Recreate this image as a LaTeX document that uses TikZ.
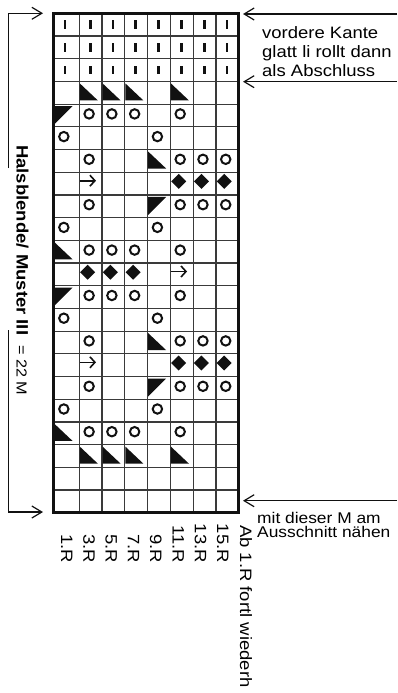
\documentclass[tikz,border=0pt]{standalone}
\usepackage{fontspec}
\setmainfont[FakeStretch=1.12]{Liberation Sans}
\usepackage{tikz}
\usetikzlibrary{arrows.meta}
\definecolor{Ink}{HTML}{111111}
\definecolor{Rule}{HTML}{3A3A3A}

\begin{document}
\begin{tikzpicture}[x=1pt,y=-1pt,
  gridline/.style={Rule,line width=1.2pt},
  frame/.style={Ink,line width=2.8pt},
  pointer/.style={Ink,line width=1.2pt,-{Straight Barb[length=10pt,width=12pt]}},
  ring/.style={Ink,line width=2pt},
  knit/.style={Ink,line width=1.6pt,-{Straight Barb[length=5pt,width=11pt]}},
  note/.style={inner sep=0pt,anchor=base west,font=\fontsize{16.5}{19}\selectfont},
  rowlabel/.style={inner sep=0pt,rotate=-90,font=\fontsize{16.5}{19}\selectfont}]

  \fill[white] (0,0) rectangle (397,693);
  \useasboundingbox (0,0) rectangle (397,693);

  \coordinate (nw) at (53.3,13.3);
  \coordinate (se) at (238.7,512.7);

  \foreach \k in {0,...,6}
    \draw[gridline] ({79.3+\k*22.77},13.3) -- ({79.3+\k*22.77},512.7);
  \foreach \k in {1,...,21}
    \draw[gridline] (53.3,{13.3+\k*22.7}) -- (238.7,{13.3+\k*22.7});
  \draw[frame] (nw) rectangle (se);

  \foreach \r in {1,2,3}
    \foreach \c in {1,...,8}
      \fill[Ink] ({79.3+(\c-2)*22.77-2.5*(\c<2)+9.6},{13.3+(\r-1)*22.7+7.1}) rectangle ++(2.8,8.5);

  \foreach \c/\r [evaluate=\c as \xl using 79.3+(\c-2)*22.77-2.5*(\c<2),
                  evaluate=\r as \yt using 13.3+(\r-1)*22.7] in
    {2/4,3/4,4/4,6/4,5/7,1/11,5/15,1/19,2/20,3/20,4/20,6/20}
    \fill[Ink] ({\xl+0.5},{\yt+2}) -- ({\xl+0.5},{\yt+19}) -- ({\xl+18.5},{\yt+19}) -- cycle;

  \foreach \c/\r [evaluate=\c as \xl using 79.3+(\c-2)*22.77-2.5*(\c<2),
                  evaluate=\r as \yt using 13.3+(\r-1)*22.7] in
    {1/5,5/9,1/13,5/17}
    \fill[Ink] ({\xl+0.5},{\yt+2}) -- ({\xl+18.5},{\yt+2}) -- ({\xl+0.5},{\yt+20}) -- cycle;

  \foreach \c/\r [evaluate=\c as \xl using 79.3+(\c-2)*22.77-2.5*(\c<2),
                  evaluate=\r as \yt using 13.3+(\r-1)*22.7] in
    {2/5,3/5,4/5,6/5,1/6,5/6,2/7,6/7,7/7,8/7,2/9,6/9,7/9,8/9,1/10,5/10,
     2/11,3/11,4/11,6/11,2/13,3/13,4/13,6/13,1/14,5/14,2/15,6/15,7/15,8/15,
     2/17,6/17,7/17,8/17,1/18,5/18,2/19,3/19,4/19,6/19}
    \draw[ring] ({\xl+9.8},{\yt+9.8}) circle (4.7);

  \foreach \c/\r [evaluate=\c as \xl using 79.3+(\c-2)*22.77-2.5*(\c<2),
                  evaluate=\r as \yt using 13.3+(\r-1)*22.7] in
    {2/8,6/12,2/16}
    \draw[knit] ({\xl+0.7},{\yt+8.5}) -- ({\xl+16.7},{\yt+8.5});

  \foreach \c/\r [evaluate=\c as \xl using 79.3+(\c-2)*22.77-2.5*(\c<2),
                  evaluate=\r as \yt using 13.3+(\r-1)*22.7] in
    {6/8,7/8,8/8,2/12,3/12,4/12,6/16,7/16,8/16}
    \fill[Ink] ({\xl+0.8},{\yt+9.2}) -- ({\xl+8.3},{\yt+1.7}) -- ({\xl+15.8},{\yt+9.2})
      -- ({\xl+8.3},{\yt+16.7}) -- cycle;

  \coordinate (bracketTop) at (8.3,168);
  \coordinate (cornerTop) at (8.3,13.3);
  \coordinate (tipTop) at (43,13.3);
  \coordinate (bracketBot) at (8.3,330);
  \coordinate (cornerBot) at (8.3,512);
  \coordinate (tipBot) at (43,512);
  \draw[pointer] (bracketTop) -- (cornerTop) -- (tipTop);
  \draw[pointer] (bracketBot) -- (cornerBot) -- (tipBot);

  \coordinate (edgeA) at (397,14);
  \coordinate (tipA) at (243,14);
  \coordinate (edgeB) at (397,81.7);
  \coordinate (tipB) at (243,81.7);
  \coordinate (edgeC) at (397,500.7);
  \coordinate (tipC) at (243,500.7);
  \draw[pointer] (edgeA) -- (tipA);
  \draw[pointer] (edgeB) -- (tipB);
  \draw[pointer] (edgeC) -- (tipC);

  \node[note] (kante) at (262,38) {vordere Kante};
  \node[note] (rollt) at (262,57) {glatt li rollt dann};
  \node[note] (abschluss) at (262,76) {als Abschluss};
  \node[note,font=\fontsize{15.5}{18}\selectfont] (naht) at (257,523) {mit dieser M am};
  \node[note,font=\fontsize{15.5}{18}\selectfont] (ausschnitt) at (257,537.5) {Ausschnitt nähen};

  \node[rowlabel,anchor=base west] (halsblende) at (16.5,145)
    {\textbf{Halsblende/ Muster III}\hspace{10pt}{\fontsize{14.5}{17}\selectfont= 22 M}};
  \foreach \k/\n in {0/1,1/3,2/5,3/7,4/9,5/11,6/13,7/15}
    \node[rowlabel,anchor=base east] (r\n) at ({61+\k*22.3},563) {\n.R};
  \node[rowlabel,anchor=base west] (wiederh) at (240,525) {Ab 1.R fortl wiederh};
\end{tikzpicture}
\end{document}
